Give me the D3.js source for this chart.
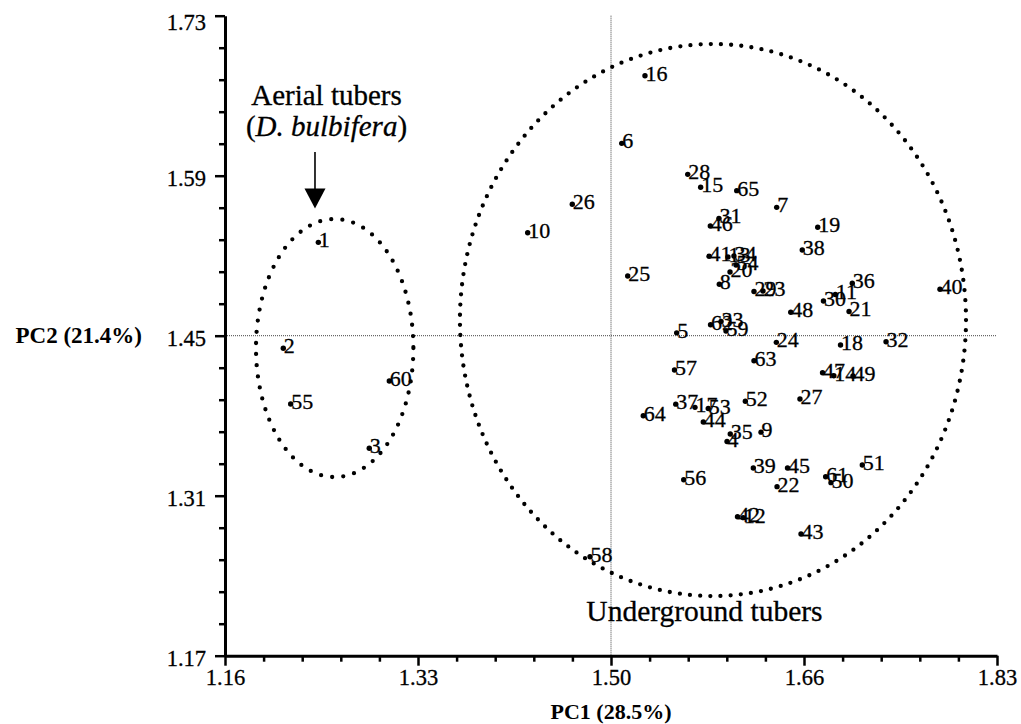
<!DOCTYPE html>
<html>
<head>
<meta charset="utf-8">
<script src="https://cdn.jsdelivr.net/npm/d3@7"></script>
<style>
  html, body { margin: 0; padding: 0; background: #fff; }
  svg { display: block; font-family: "Liberation Serif", "Times New Roman", serif; }
  .ink { stroke: #000; stroke-width: 0.3; }
</style>
</head>
<body>
<svg id="chart" width="1021" height="724"></svg>
<script>
// Yam accessions: PCA scores (PC1, PC2)
const accessions = [
  "1", "2", "3", "55", "60",
  "16", "6", "26", "10", "25", "28", "15", "65", "7", "31",
  "46", "19", "38", "41", "13", "34", "54", "20", "8", "29",
  "23", "36", "30", "11", "21", "40", "48", "5", "62", "33",
  "59", "24", "18", "32", "63", "57", "47", "14", "49", "37",
  "17", "53", "52", "27", "64", "44", "35", "4", "9", "39",
  "45", "56", "22", "61", "50", "51", "42", "12", "43", "58"
];
const pc1 = [
  1.2410, 1.2106, 1.2852, 1.2170, 1.3026,
  1.5245, 1.5043, 1.4614, 1.4227, 1.5095, 1.5616, 1.5728, 1.6041, 1.6388, 1.5887,
  1.5812, 1.6744, 1.6610, 1.5801, 1.5965, 1.6017, 1.6035, 1.5983, 1.5890, 1.6191,
  1.6269, 1.7044, 1.6794, 1.6897, 1.7016, 1.7805, 1.6510, 1.5520, 1.5814, 1.5905,
  1.5948, 1.6385, 1.6942, 1.7337, 1.6191, 1.5501, 1.6786, 1.6884, 1.7050, 1.5512,
  1.5679, 1.5794, 1.6116, 1.6590, 1.5230, 1.5751, 1.5985, 1.5957, 1.6252, 1.6185,
  1.6482, 1.5581, 1.6391, 1.6813, 1.6859, 1.7131, 1.6048, 1.6098, 1.6599, 1.4768
];
const pc2 = [
  1.5317, 1.4390, 1.3515, 1.3902, 1.4104,
  1.6775, 1.6183, 1.5650, 1.5401, 1.5022, 1.5912, 1.5799, 1.5769, 1.5623, 1.5527,
  1.5460, 1.5449, 1.5250, 1.5195, 1.5189, 1.5197, 1.5119, 1.5057, 1.4950, 1.4887,
  1.4891, 1.4959, 1.4804, 1.4861, 1.4712, 1.4906, 1.4705, 1.4525, 1.4596, 1.4624,
  1.4541, 1.4442, 1.4419, 1.4447, 1.4281, 1.4200, 1.4176, 1.4149, 1.4147, 1.3901,
  1.3873, 1.3863, 1.3926, 1.3946, 1.3800, 1.3745, 1.3640, 1.3574, 1.3656, 1.3342,
  1.3342, 1.3240, 1.3179, 1.3266, 1.3214, 1.3369, 1.2916, 1.2908, 1.2765, 1.2566
];

// Axis ticks
const xTicks = [1.16, 1.3275, 1.495, 1.6625, 1.83];
const xTickLabels = ["1.16", "1.33", "1.50", "1.66", "1.83"];
const yTicks = [1.17, 1.31, 1.45, 1.59, 1.73];
const yTickLabels = ["1.17", "1.31", "1.45", "1.59", "1.73"];

// Crossing point of the dotted reference lines
const refX = 1.495;
const refY = 1.45;

// Group outlines (centre and radii in PC units)
const aerialOutline = { cx: 1.2552, cy: 1.4392, rx: 0.0683, ry: 0.1129 };
const undergroundOutline = { cx: 1.5835, cy: 1.4637, rx: 0.2196, ry: 0.2415 };

const svg = d3.select("#chart");
const x = d3.scaleLinear().domain([1.16, 1.83]).range([225, 997]);
const y = d3.scaleLinear().domain([1.17, 1.73]).range([655.7, 15.7]);

function minorTicks(majors) {
  const out = [];
  for (let i = 0; i < majors.length - 1; i++) {
    const step = (majors[i + 1] - majors[i]) / 5;
    for (let k = 1; k < 5; k++) out.push(majors[i] + k * step);
  }
  return out;
}

// Dotted reference lines
svg.append("line")
  .attr("x1", x(refX)).attr("x2", x(refX))
  .attr("y1", y(1.73)).attr("y2", y(1.17))
  .attr("stroke", "#444").attr("stroke-width", 1).attr("stroke-dasharray", "1,1");
svg.append("line")
  .attr("x1", x(1.16)).attr("x2", x(1.83))
  .attr("y1", y(refY)).attr("y2", y(refY))
  .attr("stroke", "#444").attr("stroke-width", 1).attr("stroke-dasharray", "1,1");

// Group outlines drawn as rows of round dots
function outline(o, gap) {
  svg.append("ellipse")
    .attr("cx", x(o.cx)).attr("cy", y(o.cy))
    .attr("rx", x(o.cx + o.rx) - x(o.cx))
    .attr("ry", y(o.cy) - y(o.cy + o.ry))
    .attr("fill", "none").attr("stroke", "#000")
    .attr("stroke-width", 4.3).attr("stroke-linecap", "round")
    .attr("stroke-dasharray", "0," + gap);
}
outline(aerialOutline, 11.2);
outline(undergroundOutline, 10.2);

// Axes
svg.append("g").attr("transform", `translate(0,${y(1.17)})`)
  .call(d3.axisBottom(x).tickValues(xTicks).tickFormat((d, i) => xTickLabels[i])
    .tickSize(10).tickSizeOuter(0).tickPadding(3));
svg.append("g").attr("transform", `translate(0,${y(1.17)})`)
  .call(d3.axisBottom(x).tickValues(minorTicks(xTicks)).tickFormat("")
    .tickSize(6).tickSizeOuter(0))
  .select(".domain").remove();

const yAxis = svg.append("g").attr("transform", `translate(${x(1.16)},0)`)
  .call(d3.axisLeft(y).tickValues(yTicks).tickFormat((d, i) => yTickLabels[i])
    .tickSize(10).tickSizeOuter(0).tickPadding(9));
svg.append("g").attr("transform", `translate(${x(1.16)},0)`)
  .call(d3.axisLeft(y).tickValues(minorTicks(yTicks)).tickFormat("")
    .tickSize(6).tickSizeOuter(0))
  .select(".domain").remove();

svg.selectAll(".domain").attr("stroke-width", 3).attr("stroke", "#000");
svg.selectAll(".tick line").attr("stroke-width", 2.5).attr("stroke", "#000");
svg.selectAll(".tick text")
  .attr("class", "ink")
  .attr("font-family", "'Liberation Serif', 'Times New Roman', serif")
  .attr("font-size", 22.5).attr("fill", "#000");
// keep the top y label inside the frame
yAxis.selectAll(".tick text").filter(d => d === 1.73).attr("dy", "0.6em");
yAxis.selectAll(".tick text").filter(d => d !== 1.73).attr("dy", "0.42em");

// Axis titles
svg.append("text")
  .attr("x", x(refX)).attr("y", 719)
  .attr("text-anchor", "middle").attr("font-weight", "bold").attr("font-size", 22)
  .text("PC1 (28.5%)");
svg.append("text")
  .attr("x", 142).attr("y", y(refY) + 7.5)
  .attr("text-anchor", "end").attr("font-weight", "bold").attr("font-size", 23)
  .text("PC2 (21.4%)");

// Points and labels
const pts = accessions.map((id, i) => ({ id, pc1: pc1[i], pc2: pc2[i] }));
const g = svg.append("g");
g.selectAll("circle").data(pts).join("circle")
  .attr("cx", d => x(d.pc1)).attr("cy", d => y(d.pc2))
  .attr("r", 2.7).attr("fill", "#000");
g.selectAll("text").data(pts).join("text")
  .attr("class", "ink")
  .attr("x", d => x(d.pc1) + 0.5).attr("y", d => y(d.pc2) + 5)
  .attr("font-size", 22).attr("fill", "#000")
  .text(d => d.id);

// Group annotations
svg.append("text")
  .attr("class", "ink")
  .attr("x", x(1.2481)).attr("y", y(1.6520))
  .attr("text-anchor", "middle").attr("font-size", 29)
  .text("Aerial tubers");
const sp = svg.append("text")
  .attr("class", "ink")
  .attr("x", x(1.2481)).attr("y", y(1.6250))
  .attr("text-anchor", "middle").attr("font-size", 29);
sp.append("tspan").text("(");
sp.append("tspan").attr("font-style", "italic").text("D. bulbifera");
sp.append("tspan").text(")");
svg.append("text")
  .attr("class", "ink")
  .attr("x", x(1.5761)).attr("y", y(1.2004))
  .attr("text-anchor", "middle").attr("font-size", 29.5)
  .text("Underground tubers");

// Arrow pointing at the aerial group
const ax = x(1.2381), aTop = y(1.6107), aTip = y(1.5613);
svg.append("line")
  .attr("x1", ax).attr("x2", ax).attr("y1", aTop).attr("y2", aTip - 18)
  .attr("stroke", "#000").attr("stroke-width", 1.6);
svg.append("path")
  .attr("d", `M${ax - 10.5},${aTip - 20} L${ax + 10.5},${aTip - 20} L${ax},${aTip} Z`)
  .attr("fill", "#000");
</script>
</body>
</html>
